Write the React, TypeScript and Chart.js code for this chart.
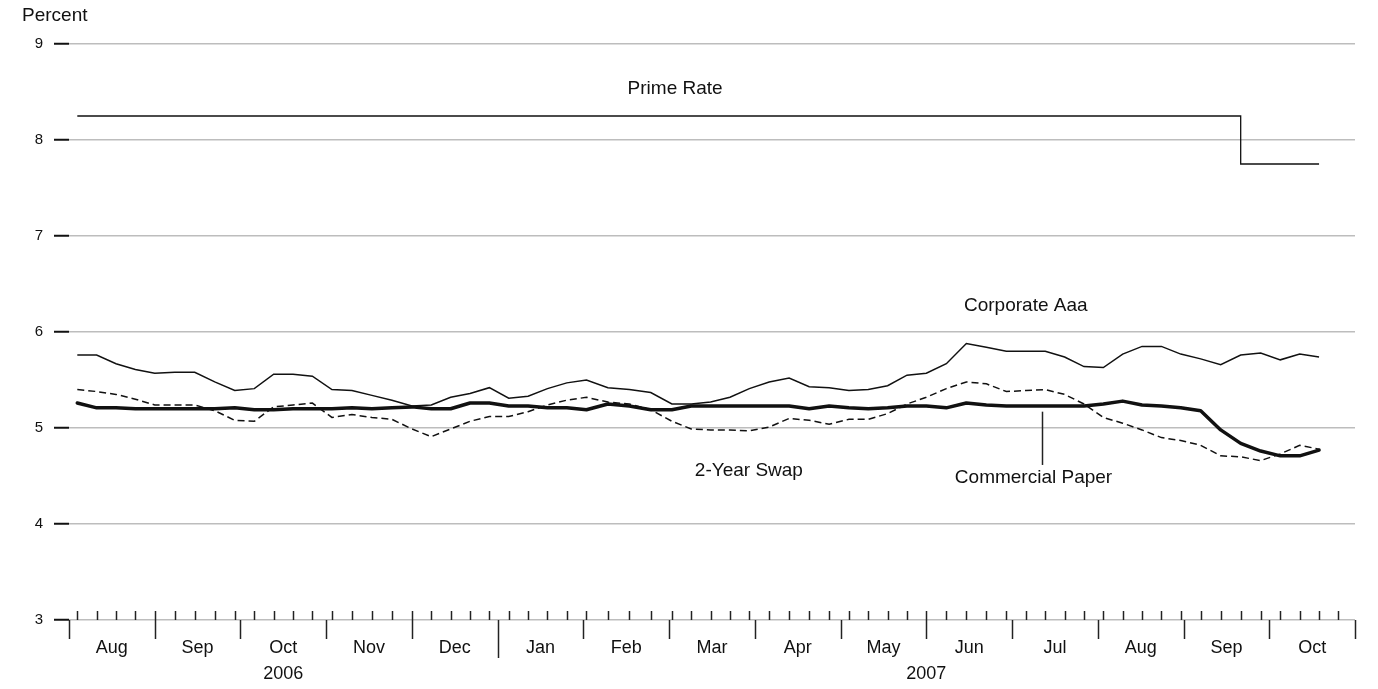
import React, { useEffect, useRef } from "react";
import { Chart, registerables } from "chart.js";

Chart.register(...registerables);

// Month categories on the x axis (equal-width months)
const MONTHS = [
  "2006-08", "2006-09", "2006-10", "2006-11", "2006-12",
  "2007-01", "2007-02", "2007-03", "2007-04", "2007-05",
  "2007-06", "2007-07", "2007-08", "2007-09", "2007-10",
];
const MONTH_LABELS = ["Aug", "Sep", "Oct", "Nov", "Dec", "Jan", "Feb", "Mar", "Apr", "May", "Jun", "Jul", "Aug", "Sep", "Oct"];

// Weekly observation dates (Fridays)
const WEEKS = [
  "2006-08-04", "2006-08-11", "2006-08-18", "2006-08-25",
  "2006-09-01", "2006-09-08", "2006-09-15", "2006-09-22", "2006-09-29",
  "2006-10-06", "2006-10-13", "2006-10-20", "2006-10-27",
  "2006-11-03", "2006-11-10", "2006-11-17", "2006-11-24",
  "2006-12-01", "2006-12-08", "2006-12-15", "2006-12-22", "2006-12-29",
  "2007-01-05", "2007-01-12", "2007-01-19", "2007-01-26",
  "2007-02-02", "2007-02-09", "2007-02-16", "2007-02-23",
  "2007-03-02", "2007-03-09", "2007-03-16", "2007-03-23", "2007-03-30",
  "2007-04-06", "2007-04-13", "2007-04-20", "2007-04-27",
  "2007-05-04", "2007-05-11", "2007-05-18", "2007-05-25",
  "2007-06-01", "2007-06-08", "2007-06-15", "2007-06-22", "2007-06-29",
  "2007-07-06", "2007-07-13", "2007-07-20", "2007-07-27",
  "2007-08-03", "2007-08-10", "2007-08-17", "2007-08-24", "2007-08-31",
  "2007-09-07", "2007-09-14", "2007-09-21", "2007-09-28",
  "2007-10-05", "2007-10-12", "2007-10-19",
];
// Weekly minor tick dates
const TICK_WEEKS = [...WEEKS, "2007-10-26"];

const PRIME_RATE = [
  8.25, 8.25, 8.25, 8.25,
  8.25, 8.25, 8.25, 8.25, 8.25,
  8.25, 8.25, 8.25, 8.25,
  8.25, 8.25, 8.25, 8.25,
  8.25, 8.25, 8.25, 8.25, 8.25,
  8.25, 8.25, 8.25, 8.25,
  8.25, 8.25, 8.25, 8.25,
  8.25, 8.25, 8.25, 8.25, 8.25,
  8.25, 8.25, 8.25, 8.25,
  8.25, 8.25, 8.25, 8.25,
  8.25, 8.25, 8.25, 8.25, 8.25,
  8.25, 8.25, 8.25, 8.25,
  8.25, 8.25, 8.25, 8.25, 8.25,
  8.25, 8.25, 7.75, 7.75,
  7.75, 7.75, 7.75,
];
const CORPORATE_AAA = [
  5.76, 5.76, 5.67, 5.61,
  5.57, 5.58, 5.58, 5.48, 5.39,
  5.41, 5.56, 5.56, 5.54,
  5.40, 5.39, 5.34, 5.29,
  5.23, 5.24, 5.32, 5.36, 5.42,
  5.31, 5.33, 5.41, 5.47,
  5.50, 5.42, 5.40, 5.37,
  5.25, 5.25, 5.27, 5.32, 5.41,
  5.48, 5.52, 5.43, 5.42,
  5.39, 5.40, 5.44, 5.55,
  5.57, 5.67, 5.88, 5.84, 5.80,
  5.80, 5.80, 5.74, 5.64,
  5.63, 5.77, 5.85, 5.85, 5.77,
  5.72, 5.66, 5.76, 5.78,
  5.71, 5.77, 5.74,
];
const COMMERCIAL_PAPER = [
  5.26, 5.21, 5.21, 5.20,
  5.20, 5.20, 5.20, 5.20, 5.21,
  5.19, 5.19, 5.20, 5.20,
  5.20, 5.21, 5.20, 5.21,
  5.22, 5.20, 5.20, 5.26, 5.26,
  5.23, 5.23, 5.21, 5.21,
  5.19, 5.25, 5.23, 5.19,
  5.19, 5.23, 5.23, 5.23, 5.23,
  5.23, 5.23, 5.20, 5.23,
  5.21, 5.20, 5.21, 5.23,
  5.23, 5.21, 5.26, 5.24, 5.23,
  5.23, 5.23, 5.23, 5.23,
  5.25, 5.28, 5.24, 5.23, 5.21,
  5.18, 4.98, 4.84, 4.76,
  4.71, 4.71, 4.77,
];
const TWO_YEAR_SWAP = [
  5.40, 5.38, 5.35, 5.30,
  5.24, 5.24, 5.24, 5.18, 5.08,
  5.07, 5.22, 5.24, 5.26,
  5.11, 5.14, 5.11, 5.09,
  4.99, 4.91, 4.99, 5.07, 5.12,
  5.12, 5.17, 5.24, 5.29,
  5.32, 5.27, 5.25, 5.19,
  5.07, 4.99, 4.98, 4.98, 4.97,
  5.01, 5.10, 5.08, 5.04,
  5.09, 5.09, 5.15, 5.25,
  5.32, 5.41, 5.48, 5.46, 5.38,
  5.39, 5.40, 5.35, 5.25,
  5.11, 5.05, 4.98, 4.90, 4.87,
  4.82, 4.71, 4.70, 4.66,
  4.73, 4.82, 4.78,
];

const Y_TICKS = [3, 4, 5, 6, 7, 8, 9];

const FONT = "'Liberation Sans', Arial, Helvetica, sans-serif";
const INK = "#111";

// map a date to "month index + fraction of month"
function toX(date: string): number {
  const [y, m, d] = date.split("-").map(Number);
  const first = MONTHS[0].split("-").map(Number);
  const idx = (y - first[0]) * 12 + (m - first[1]);
  const dim = new Date(y, m, 0).getDate();
  return idx + (d - 1) / dim;
}

function series(values: number[]) {
  return WEEKS.map((d, i) => ({ x: toX(d), y: values[i] }));
}

const overlayPlugin = {
  id: "overlay",
  afterDraw(chart: any) {
    const { ctx, chartArea } = chart;
    const xs = chart.scales.x;
    const ys = chart.scales.y;
    const base = chartArea.bottom;
    ctx.save();
    ctx.strokeStyle = "#222";
    ctx.lineWidth = 1.5;
    const line = (x1: number, y1: number, x2: number, y2: number) => {
      ctx.beginPath();
      ctx.moveTo(x1, y1);
      ctx.lineTo(x2, y2);
      ctx.stroke();
    };
    // weekly minor ticks (upward)
    TICK_WEEKS.forEach((d) => {
      const px = Math.round(xs.getPixelForValue(toX(d))) + 0.5;
      line(px, base - 9, px, base);
    });
    // month boundary ticks (downward), longer at year boundary
    for (let i = 0; i <= MONTHS.length; i++) {
      const px = Math.round(xs.getPixelForValue(i)) + 0.5;
      const isYear = i > 0 && i < MONTHS.length && MONTHS[i].endsWith("-01");
      line(px, base, px, base + (isYear ? 38 : 19));
    }
    ctx.fillStyle = INK;
    ctx.textAlign = "center";
    ctx.textBaseline = "alphabetic";
    ctx.font = `18px ${FONT}`;
    MONTH_LABELS.forEach((lab, i) => {
      const px = xs.getPixelForValue(i + 0.5);
      ctx.fillText(lab, px, base + 33);
    });
    // year labels
    const years: string[] = [];
    MONTHS.forEach((m) => {
      const y = m.slice(0, 4);
      if (!years.includes(y)) years.push(y);
    });
    years.forEach((y) => {
      const idxs = MONTHS.map((m, i) => (m.startsWith(y) ? i : -1)).filter((i) => i >= 0);
      const a = xs.getPixelForValue(idxs[0]);
      const b = xs.getPixelForValue(idxs[idxs.length - 1] + 1);
      ctx.fillText(y, (a + b) / 2, base + 59);
    });
    // series labels
    ctx.font = `19px ${FONT}`;
    const label = (t: string, xv: number, yv: number) =>
      ctx.fillText(t, xs.getPixelForValue(xv), ys.getPixelForValue(yv));
    label("Prime Rate", 7.07, 8.48);
    label("Corporate Aaa", 11.16, 6.22);
    label("2-Year Swap", 7.93, 4.5);
    label("Commercial Paper", 11.25, 4.427);
    // leader for Commercial Paper
    const lx = Math.round(xs.getPixelForValue(11.353)) + 0.5;
    line(lx, ys.getPixelForValue(5.17), lx, ys.getPixelForValue(4.615));
    // axis unit
    ctx.textAlign = "left";
    ctx.fillText("Percent", chartArea.left - 47, chartArea.top - 23);
    ctx.restore();
  },
};

export default function App() {
  const ref = useRef<HTMLCanvasElement>(null);
  useEffect(() => {
    if (!ref.current) return;
    const chart = new Chart(ref.current, {
      type: "line",
      data: {
        datasets: [
          {
            label: "Prime Rate",
            data: series(PRIME_RATE),
            borderColor: INK,
            borderWidth: 1.3,
            stepped: "before",
            pointRadius: 0,
          },
          {
            label: "Corporate Aaa",
            data: series(CORPORATE_AAA),
            borderColor: INK,
            borderWidth: 1.5,
            tension: 0,
            pointRadius: 0,
          },
          {
            label: "2-Year Swap",
            data: series(TWO_YEAR_SWAP),
            borderColor: INK,
            borderWidth: 1.5,
            borderDash: [7, 4],
            tension: 0,
            pointRadius: 0,
          },
          {
            label: "Commercial Paper",
            data: series(COMMERCIAL_PAPER),
            borderColor: INK,
            borderWidth: 3.5,
            borderJoinStyle: "round",
            borderCapStyle: "round",
            tension: 0,
            pointRadius: 0,
          },
        ],
      },
      options: {
        animation: false,
        responsive: false,
        devicePixelRatio: 1,
        layout: { padding: { left: 0, right: 23, top: 44, bottom: 69 } },
        plugins: { legend: { display: false }, tooltip: { enabled: false } },
        scales: {
          x: { type: "linear", min: 0, max: MONTHS.length, display: false },
          y: {
            min: 3,
            max: 9,
            afterFit(scale: any) {
              scale.width = 69;
            },
            afterBuildTicks(scale: any) {
              scale.ticks = Y_TICKS.map((v) => ({ value: v }));
            },
            border: { display: false },
            grid: {
              color: "#bdbdbd",
              lineWidth: 1.5,
              tickColor: "#111",
              tickLength: 15,
              tickWidth: 2,
            },
            ticks: {
              color: INK,
              padding: 11,
              font: { family: FONT, size: 15 },
            },
          },
        },
      },
      plugins: [overlayPlugin],
    });
    return () => chart.destroy();
  }, []);
  return (
    <canvas
      ref={ref}
      width={1378}
      height={689}
      style={{ position: "absolute", left: 0, top: 0, width: 1378, height: 689, background: "#fff" }}
    />
  );
}
